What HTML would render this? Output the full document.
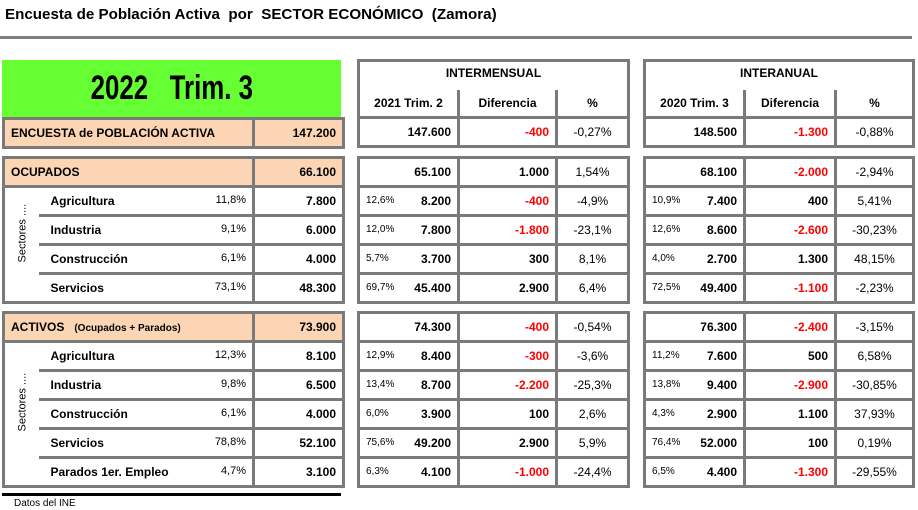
<!DOCTYPE html>
<html><head><meta charset="utf-8"><style>
body{margin:0;width:918px;height:510px;background:#fff;position:relative;overflow:hidden;font-family:"Liberation Sans",Arial,sans-serif;color:#000}
.abs{position:absolute}
table{border-collapse:collapse;table-layout:fixed;position:absolute}
td{border:3px solid #7a7a7a;padding:0 6px;font-size:12px;font-weight:bold;white-space:nowrap;overflow:hidden;height:26px;text-align:right}
.pk{background:#fcd5b4}
.l{text-align:left}
.c{text-align:center}
.r{color:#ff0000}
.n{font-weight:normal}
.sp{font-weight:normal;font-size:10px;float:left;margin-top:1px}
.lp{font-weight:normal;font-size:11px;float:right}
.nm{float:left;padding-left:6px}
</style></head><body>
<div class="abs" style="left:5px;top:6px;font-size:15px;font-weight:bold;transform:scaleX(1.01);transform-origin:left">Encuesta de Población Activa&nbsp; por&nbsp; SECTOR ECONÓMICO&nbsp; (Zamora)</div>
<div class="abs" style="left:0;top:36px;width:912px;height:3px;background:#808080"></div>

<div class="abs" style="left:2px;top:60px;width:339px;height:57px;background:#66ff33;font-size:34px;font-weight:bold;text-align:center;line-height:57px"><span style="display:inline-block;transform:scaleX(0.76)">2022&nbsp;&nbsp; Trim. 3</span></div>

<table style="left:2px;top:117px;width:340px">
<colgroup><col style="width:250px"><col style="width:90px"></colgroup>
<tr><td class="pk l">ENCUESTA de POBLACIÓN ACTIVA</td><td class="pk">147.200</td></tr>
</table>

<table style="left:357px;top:59px;width:270px">
<colgroup><col style="width:100px"><col style="width:98px"><col style="width:72px"></colgroup>
<tr><td colspan="3" class="c" style="border-bottom:none;height:24px;padding-top:4px;vertical-align:top">INTERMENSUAL</td></tr>
<tr><td class="c" style="border-top:none;height:25px">2021 Trim. 2</td><td class="c" style="border-top:none">Diferencia</td><td class="c" style="border-top:none">%</td></tr>
<tr><td>147.600</td><td class="r">-400</td><td class="c n">-0,27%</td></tr>
</table>

<table style="left:643px;top:59px;width:269px">
<colgroup><col style="width:100px"><col style="width:91px"><col style="width:78px"></colgroup>
<tr><td colspan="3" class="c" style="border-bottom:none;height:24px;padding-top:4px;vertical-align:top">INTERANUAL</td></tr>
<tr><td class="c" style="border-top:none;height:25px">2020 Trim. 3</td><td class="c" style="border-top:none">Diferencia</td><td class="c" style="border-top:none">%</td></tr>
<tr><td>148.500</td><td class="r">-1.300</td><td class="c n">-0,88%</td></tr>
</table>

<!-- OCUPADOS -->
<table style="left:2px;top:156px;width:340px">
<colgroup><col style="width:35px"><col style="width:215px"><col style="width:90px"></colgroup>
<tr><td colspan="2" class="pk l">OCUPADOS</td><td class="pk">66.100</td></tr>
<tr><td rowspan="4" style="padding:0;border-right:none;text-align:center"><div style="transform:rotate(-90deg);font-size:11px;font-weight:normal;white-space:nowrap;width:35px">Sectores ....</div></td>
<td style="border-left:none"><span class="nm">Agricultura</span><span class="lp">11,8%</span></td><td>7.800</td></tr>
<tr><td style="border-left:none"><span class="nm">Industria</span><span class="lp">9,1%</span></td><td>6.000</td></tr>
<tr><td style="border-left:none"><span class="nm">Construcción</span><span class="lp">6,1%</span></td><td>4.000</td></tr>
<tr><td style="border-left:none"><span class="nm">Servicios</span><span class="lp">73,1%</span></td><td>48.300</td></tr>
</table>

<table style="left:357px;top:156px;width:270px">
<colgroup><col style="width:100px"><col style="width:98px"><col style="width:72px"></colgroup>
<tr><td>65.100</td><td>1.000</td><td class="c n">1,54%</td></tr>
<tr><td><span class="sp">12,6%</span>8.200</td><td class="r">-400</td><td class="c n">-4,9%</td></tr>
<tr><td><span class="sp">12,0%</span>7.800</td><td class="r">-1.800</td><td class="c n">-23,1%</td></tr>
<tr><td><span class="sp">5,7%</span>3.700</td><td>300</td><td class="c n">8,1%</td></tr>
<tr><td><span class="sp">69,7%</span>45.400</td><td>2.900</td><td class="c n">6,4%</td></tr>
</table>

<table style="left:643px;top:156px;width:269px">
<colgroup><col style="width:100px"><col style="width:91px"><col style="width:78px"></colgroup>
<tr><td>68.100</td><td class="r">-2.000</td><td class="c n">-2,94%</td></tr>
<tr><td><span class="sp">10,9%</span>7.400</td><td>400</td><td class="c n">5,41%</td></tr>
<tr><td><span class="sp">12,6%</span>8.600</td><td class="r">-2.600</td><td class="c n">-30,23%</td></tr>
<tr><td><span class="sp">4,0%</span>2.700</td><td>1.300</td><td class="c n">48,15%</td></tr>
<tr><td><span class="sp">72,5%</span>49.400</td><td class="r">-1.100</td><td class="c n">-2,23%</td></tr>
</table>

<!-- ACTIVOS -->
<table style="left:2px;top:311px;width:340px">
<colgroup><col style="width:35px"><col style="width:215px"><col style="width:90px"></colgroup>
<tr><td colspan="2" class="pk l">ACTIVOS&nbsp;&nbsp; <span style="font-size:10px">(Ocupados + Parados)</span></td><td class="pk">73.900</td></tr>
<tr><td rowspan="5" style="padding:0;border-right:none;text-align:center"><div style="transform:rotate(-90deg);font-size:11px;font-weight:normal;white-space:nowrap;width:35px">Sectores ....</div></td>
<td style="border-left:none"><span class="nm">Agricultura</span><span class="lp">12,3%</span></td><td>8.100</td></tr>
<tr><td style="border-left:none"><span class="nm">Industria</span><span class="lp">9,8%</span></td><td>6.500</td></tr>
<tr><td style="border-left:none"><span class="nm">Construcción</span><span class="lp">6,1%</span></td><td>4.000</td></tr>
<tr><td style="border-left:none"><span class="nm">Servicios</span><span class="lp">78,8%</span></td><td>52.100</td></tr>
<tr><td style="border-left:none"><span class="nm">Parados 1er. Empleo</span><span class="lp">4,7%</span></td><td>3.100</td></tr>
</table>

<table style="left:357px;top:311px;width:270px">
<colgroup><col style="width:100px"><col style="width:98px"><col style="width:72px"></colgroup>
<tr><td>74.300</td><td class="r">-400</td><td class="c n">-0,54%</td></tr>
<tr><td><span class="sp">12,9%</span>8.400</td><td class="r">-300</td><td class="c n">-3,6%</td></tr>
<tr><td><span class="sp">13,4%</span>8.700</td><td class="r">-2.200</td><td class="c n">-25,3%</td></tr>
<tr><td><span class="sp">6,0%</span>3.900</td><td>100</td><td class="c n">2,6%</td></tr>
<tr><td><span class="sp">75,6%</span>49.200</td><td>2.900</td><td class="c n">5,9%</td></tr>
<tr><td><span class="sp">6,3%</span>4.100</td><td class="r">-1.000</td><td class="c n">-24,4%</td></tr>
</table>

<table style="left:643px;top:311px;width:269px">
<colgroup><col style="width:100px"><col style="width:91px"><col style="width:78px"></colgroup>
<tr><td>76.300</td><td class="r">-2.400</td><td class="c n">-3,15%</td></tr>
<tr><td><span class="sp">11,2%</span>7.600</td><td>500</td><td class="c n">6,58%</td></tr>
<tr><td><span class="sp">13,8%</span>9.400</td><td class="r">-2.900</td><td class="c n">-30,85%</td></tr>
<tr><td><span class="sp">4,3%</span>2.900</td><td>1.100</td><td class="c n">37,93%</td></tr>
<tr><td><span class="sp">76,4%</span>52.000</td><td>100</td><td class="c n">0,19%</td></tr>
<tr><td><span class="sp">6,5%</span>4.400</td><td class="r">-1.300</td><td class="c n">-29,55%</td></tr>
</table>

<div class="abs" style="left:2px;top:493px;width:339px;height:3px;background:#000"></div>
<div class="abs" style="left:14px;top:498px;font-size:10px">Datos del INE</div>
</body></html>
